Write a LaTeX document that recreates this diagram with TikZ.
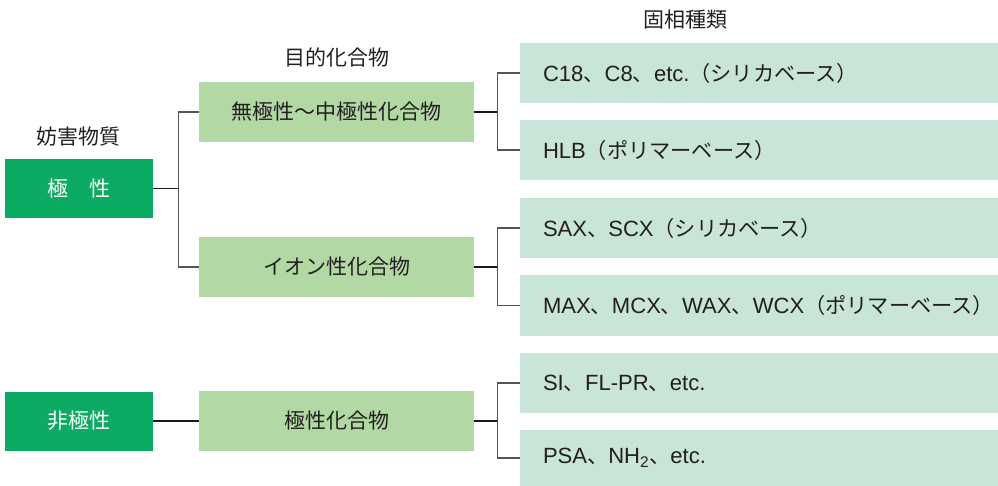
\documentclass[tikz,border=0pt]{standalone}
\usepackage{fontspec}
\setmainfont{Noto Sans CJK JP}
\newfontfamily\lat[Scale=1.04]{Liberation Sans}
\definecolor{dkgreen}{HTML}{0BAB64}
\definecolor{midgreen}{HTML}{B2D8A4}
\definecolor{ltgreen}{HTML}{C9E5D7}
\definecolor{txt}{HTML}{231F20}
\definecolor{brgray}{HTML}{555555}
\tikzset{
  lbox/.style={fill=dkgreen, text=white, minimum width=148pt, minimum height=59pt, inner sep=0pt,
    font=\fontsize{21}{25}\selectfont},
  mbox/.style={fill=midgreen, text=txt, minimum width=275pt, minimum height=60pt, inner sep=0pt,
    font=\fontsize{21}{25}\selectfont},
  rbox/.style={fill=ltgreen, text=txt, text width=478pt, minimum height=60pt, inner xsep=0pt, inner ysep=0pt,
    align=left, font=\fontsize{21.2}{26}\selectfont, execute at begin node={\hspace*{23pt}}},
  header/.style={text=txt, inner sep=0pt, font=\fontsize{21}{25}\selectfont},
  trunk/.style={draw=black!90, line width=1.8pt},
  branch/.style={draw=brgray, line width=1.3pt}
}
\begin{document}
\begin{tikzpicture}[x=1pt,y=-1pt]
\useasboundingbox (0,0) rectangle (998,486);
% headers
\node[header] (h1) at (78,137) {妨害物質};
\node[header] (h2) at (336.5,57) {目的化合物};
\node[header] (h3) at (685.5,20) {固相種類};
% left boxes
\node[lbox] (p) at (79,188.5) {極　性};
\node[lbox] (q) at (79,421) {非極性};
% mid boxes
\node[mbox] (m1) at (336.5,112) {無極性～中極性化合物};
\node[mbox] (m2) at (336.5,267) {イオン性化合物};
\node[mbox] (m3) at (336.5,421) {極性化合物};
% right boxes
\node[rbox] (r1) at (759,73) {{\lat C18}、{\lat C8}、{\lat etc.}（シリカベース）};
\node[rbox] (r2) at (759,150) {{\lat HLB}（ポリマーベース）};
\node[rbox] (r3) at (759,228) {{\lat SAX}、{\lat SCX}（シリカベース）};
\node[rbox] (r4) at (759,305.5) {{\lat MAX}、{\lat MCX}、{\lat WAX}、{\lat WCX}（ポリマーベース）};
\node[rbox] (r5) at (759,383) {{\lat SI}、{\lat FL-PR}、{\lat etc.}};
\node[rbox, minimum height=56pt] (r6) at (759,458) {{\lat PSA}、{\lat NH\textsubscript{2}}、{\lat etc.}};
% connectors: left level
\draw[trunk] (p.east) -- ++(25,0) coordinate (f1);
\draw[branch] (m1.west) -| (f1);
\draw[branch] (m2.west) -| (f1);
\draw[trunk] (q.east) -- (m3.west);
% connectors: right level
\draw[trunk] (m1.east) -- ++(23,0) coordinate (f2);
\draw[branch] (r1.west) -| (f2);
\draw[branch] (r2.west) -| (f2);
\draw[trunk] (m2.east) -- ++(23,0) coordinate (f3);
\draw[branch] (r3.west) -| (f3);
\draw[branch] (r4.west) -| (f3);
\draw[trunk] (m3.east) -- ++(23,0) coordinate (f4);
\draw[branch] (r5.west) -| (f4);
\draw[branch] (r6.west) -| (f4);
\end{tikzpicture}
\end{document}
